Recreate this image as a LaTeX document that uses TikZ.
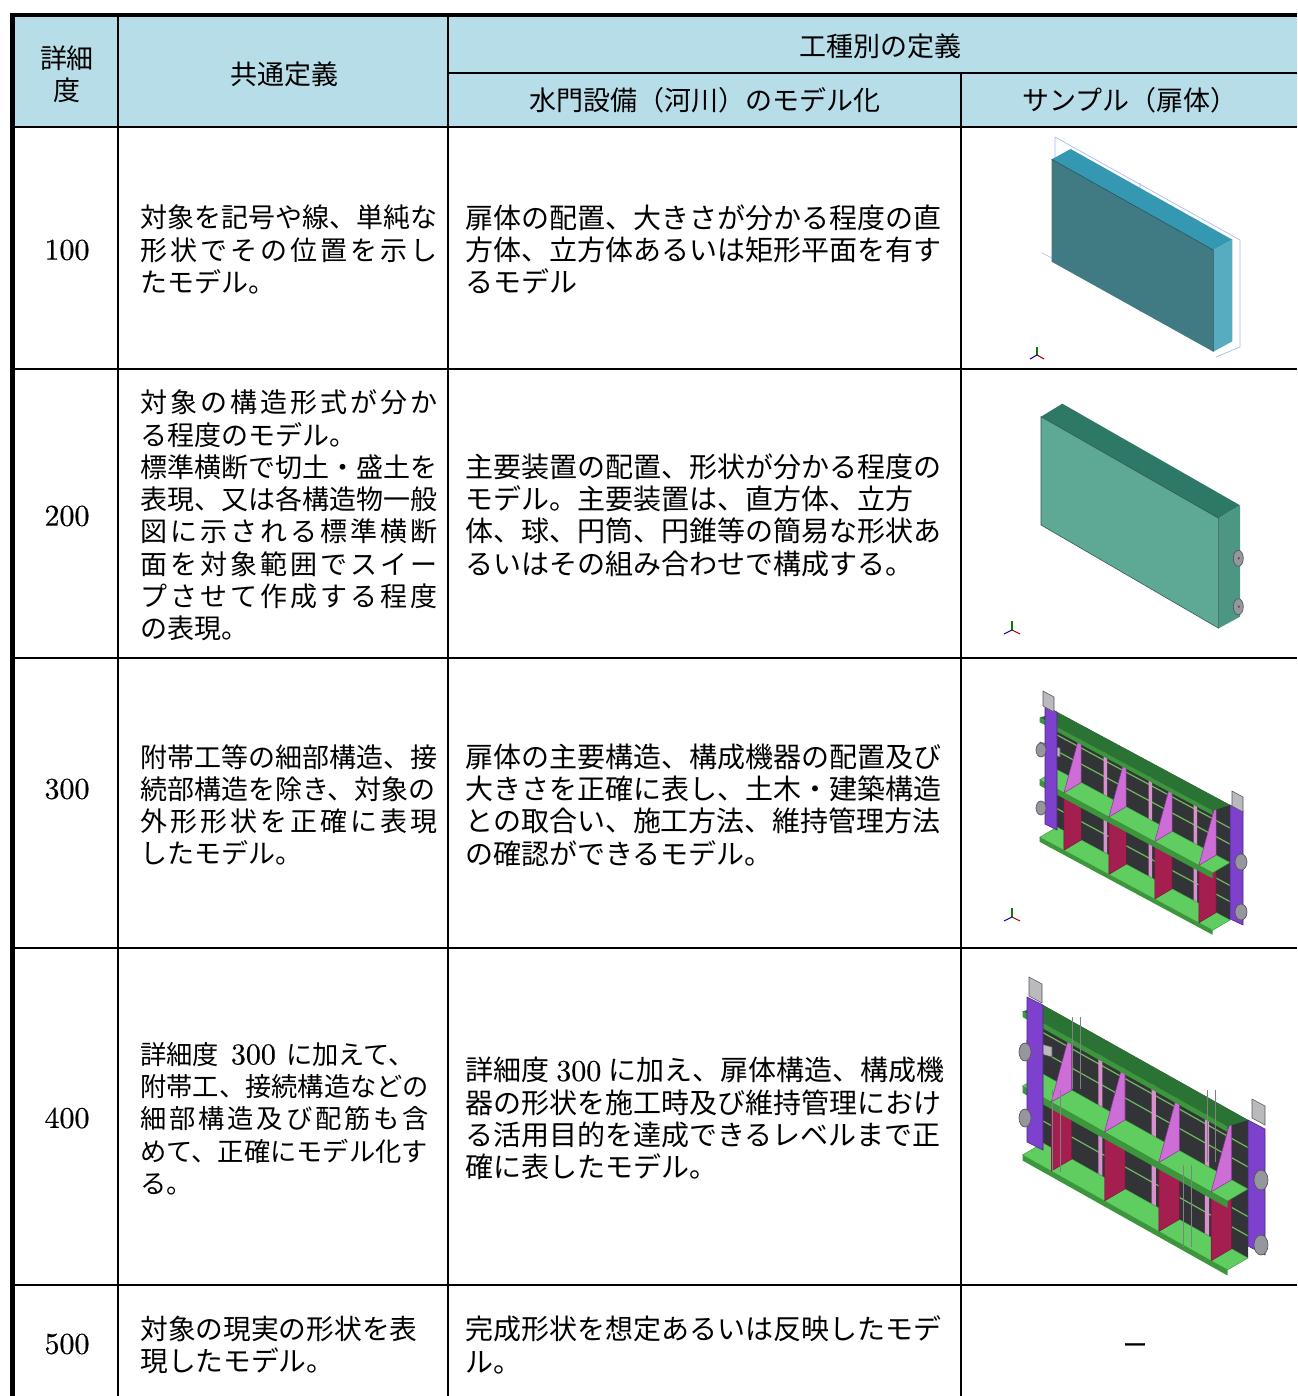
\documentclass[tikz,border=0pt]{standalone}
\usepackage{fontspec}
\newfontfamily\jp{Noto Sans CJK JP}
\newfontfamily\numf{lmroman10-regular.otf}[FakeBold=0.5]
\makeatletter
\def\spr@stop{\spr@stop}
\newcommand\spreadto[2]{\makebox[#1][s]{\spr@first#2\spr@stop}}
\def\spr@first#1{#1\spr@next}
\def\spr@next#1{\ifx\spr@stop#1\else\hfil#1\expandafter\spr@next\fi}
\makeatother
\newcommand\dg[1]{{\numf\fontsize{22.5pt}{24.2pt}\selectfont #1}}
\definecolor{hdr}{RGB}{183,221,232}
\definecolor{bAf}{RGB}{64,122,130}
\definecolor{bAt}{RGB}{52,152,178}
\definecolor{bAs}{RGB}{88,172,192}
\definecolor{bBf}{RGB}{94,168,150}
\definecolor{bBt}{RGB}{45,120,102}
\definecolor{bBs}{RGB}{78,150,132}
\definecolor{dimc}{RGB}{165,185,235}
\definecolor{skinc}{RGB}{50,52,56}
\definecolor{stiffc}{RGB}{110,185,90}
\definecolor{ribc}{RGB}{215,145,205}
\definecolor{floorc}{RGB}{95,205,95}
\definecolor{flangec}{RGB}{60,150,60}
\definecolor{topgc}{RGB}{42,115,52}
\definecolor{gussc}{RGB}{205,110,215}
\definecolor{gussd}{RGB}{140,55,150}
\definecolor{diac}{RGB}{165,30,80}
\definecolor{postc}{RGB}{125,65,205}
\definecolor{wheelc}{RGB}{150,150,158}
\definecolor{wheeld}{RGB}{85,85,92}
\definecolor{brkc}{RGB}{185,185,190}
\newcommand\gatebody{%
  \fill[skinc] (0,0) -- (1,0) -- (1,1) -- (0,1) -- cycle;
  \foreach \t in {0.2,0.34,0.7,0.84} \draw[stiffc,line width=0.9pt] (0,\t) -- (1,\t);
  \foreach \s in {0.27,0.53,0.79} \fill[ribc] (\s,0.05) -- (\s+0.02,0.05) -- (\s+0.02,1) -- (\s,1) -- cycle;
  % lower bay
  \fill[floorc,draw=flangec,line width=0.3pt] (0,1) -- (1,1) -- (0.9,1.17) -- (-0.1,1.17) -- cycle;
  \foreach \s in {0.14,0.40,0.665,0.92}
    \fill[diac,draw=diac!70!black,line width=0.3pt] (\s,0.5) -- (\s,1) -- (\s-0.1,1.17) -- (\s-0.1,0.67) -- cycle;
  \fill[flangec] (-0.1,1.17) -- (0.9,1.17) -- (0.9,1.21) -- (-0.1,1.21) -- cycle;
  % middle girder
  \fill[floorc,draw=flangec,line width=0.3pt] (0,0.5) -- (1,0.5) -- (0.9,0.67) -- (-0.1,0.67) -- cycle;
  \fill[flangec] (-0.1,0.67) -- (0.9,0.67) -- (0.9,0.72) -- (-0.1,0.72) -- cycle;
  % upper bay gussets
  \foreach \s in {0.14,0.40,0.665,0.92}
    \fill[gussc,draw=gussd,line width=0.4pt] (\s,0.04) -- (\s,0.5) -- (\s-0.1,0.67) -- cycle;
  % top girder
  \fill[topgc] (0,0) -- (1,0) -- (0.9,0.13) -- (-0.1,0.13) -- cycle;
  \fill[flangec] (-0.1,0.13) -- (0.9,0.13) -- (0.9,0.17) -- (-0.1,0.17) -- cycle;
}
\begin{document}
\begin{tikzpicture}[x=0.75pt,y=-0.75pt,
  jt/.style={font=\jp\fontsize{#1}{24.2pt}\selectfont,inner sep=0pt,align=left,anchor=west},
  jt/.default=20.25pt,
  hd/.style={font=\jp\fontsize{20.25pt}{24.2pt}\selectfont,inner sep=0pt,align=center},
  num/.style={font=\numf\fontsize{22.5pt}{24pt}\selectfont,inner sep=0pt},
  gridln/.style={line width=1.6pt,black},
  hln/.style={line width=1.9pt,black},
  dimln/.style={dimc,line width=0.5pt},
  wheel/.style={fill=wheelc,draw=wheeld,line width=0.5pt},
  brk/.style={fill=brkc,draw=wheeld,line width=0.4pt},
  post/.style={fill=postc,draw=postc!60!black,line width=0.4pt},
  ladder/.style={draw=brkc!70!black,line width=0.45pt},
]
\useasboundingbox (0,0) rectangle (1297,1396);
\fill[white] (0,0) rectangle (1297,1396);
\fill[hdr] (15,17) rectangle (1297,127);

% ---------- picture 100 ----------
\draw[dimln] (1055,137) -- (1055,160) (1055,137) -- (1240,240) -- (1240,347) -- (1216,357)
  (1042,253) -- (1052,258) (1140,183) -- (1140,200) (1140,300) -- (1140,312);
\fill[bAf] (1051.7,159.3) -- (1213.3,250) -- (1213.3,351.7) -- (1051.7,261.7) -- cycle;
\fill[bAt] (1051.7,159.3) -- (1070.7,149) -- (1232.3,239.7) -- (1213.3,250) -- cycle;
\fill[bAs] (1213.3,250) -- (1232.3,239.7) -- (1232.3,341.4) -- (1213.3,351.7) -- cycle;
\draw[bAf!60!black,line width=0.4pt] (1051.7,159.3) -- (1213.3,250) -- (1213.3,351.7);
\draw[green!50!black,line width=0.8pt] (1037,355) -- (1037,347);
\draw[blue!70!black,line width=0.8pt] (1037,355) -- (1030,359);
\draw[red!70!black,line width=0.8pt] (1037,355) -- (1044,359);

% ---------- picture 200 ----------
\fill[bBf] (1041,416.7) -- (1218.7,518.3) -- (1218.7,628.3) -- (1041,525) -- cycle;
\fill[bBt] (1041,416.7) -- (1062.3,403.7) -- (1240,505.3) -- (1218.7,518.3) -- cycle;
\fill[bBs] (1218.7,518.3) -- (1240,505.3) -- (1240,616.7) -- (1218.7,628.3) -- cycle;
\draw[bBf!50!black,line width=0.4pt] (1041,416.7) -- (1218.7,518.3) -- (1218.7,628.3) -- (1041,525) -- cycle;
\draw[wheel] (1238.3,558.3) ellipse [x radius=5, y radius=8];
\draw[wheel] (1238.3,606.7) ellipse [x radius=5, y radius=8];
\fill[wheeld] (1238.8,558.3) circle (1.3);
\fill[wheeld] (1238.8,606.7) circle (1.3);
\draw[green!50!black,line width=0.8pt] (1012,630) -- (1012,621);
\draw[blue!70!black,line width=0.8pt] (1012,630) -- (1004,634);
\draw[red!70!black,line width=0.8pt] (1012,630) -- (1020,634);

% ---------- picture 300 ----------
\begin{scope}[shift={(1057,712)},x={(173,93)},y={(0,115)}]
  \gatebody
\end{scope}
\fill[brk] (1040,742) -- (1060,748) -- (1060,757) -- (1040,752) -- cycle;
\draw[post] (1045,706) -- (1057,712) -- (1057,830) -- (1045,824) -- cycle;
\draw[post] (1230,805) -- (1243,811) -- (1243,925) -- (1230,919) -- cycle;
\draw[brk] (1043,691) -- (1054,697) -- (1054,712) -- (1043,706) -- cycle;
\draw[brk] (1232,791) -- (1243,797) -- (1243,812) -- (1232,806) -- cycle;
\draw[wheel] (1041,750) ellipse [x radius=5, y radius=7];
\draw[wheel] (1041,808) ellipse [x radius=5, y radius=7];
\draw[wheel] (1241,862) ellipse [x radius=6, y radius=8];
\draw[wheel] (1241,912) ellipse [x radius=6, y radius=8];
\draw[green!50!black,line width=0.8pt] (1012,917) -- (1012,908);
\draw[blue!70!black,line width=0.8pt] (1012,917) -- (1004,921);
\draw[red!70!black,line width=0.8pt] (1012,917) -- (1020,921);

% ---------- picture 400 ----------
\begin{scope}[shift={(1043,1005)},x={(205,115)},y={(0,138)}]
  \gatebody
\end{scope}
\fill[brk] (1027,1040) -- (1052,1047) -- (1052,1057) -- (1027,1050) -- cycle;
\draw[post] (1027,997) -- (1043,1005) -- (1043,1150) -- (1027,1142) -- cycle;
\draw[post] (1248,1120) -- (1265,1129) -- (1265,1255) -- (1248,1246) -- cycle;
\draw[brk] (1029,977) -- (1042,984) -- (1042,1003) -- (1029,996) -- cycle;
\draw[brk] (1252,1099) -- (1265,1106) -- (1265,1125) -- (1252,1118) -- cycle;
\draw[wheel] (1025,1052) ellipse [x radius=6, y radius=9];
\draw[wheel] (1025,1118) ellipse [x radius=6, y radius=9];
\draw[wheel] (1261,1180) ellipse [x radius=7, y radius=10];
\draw[wheel] (1261,1245) ellipse [x radius=7, y radius=10];
\begin{scope}[shift={(1052,1090)}] \draw[ladder] (0,0) grid[xstep=8,ystep=6] (8,82); \end{scope}
\begin{scope}[shift={(1072,1017)}] \draw[ladder] (0,0) grid[xstep=8,ystep=6] (8,72); \end{scope}
\begin{scope}[shift={(1183,1165)}] \draw[ladder] (0,0) grid[xstep=8,ystep=6] (8,82); \end{scope}
\begin{scope}[shift={(1207,1090)}] \draw[ladder] (0,0) grid[xstep=8,ystep=6] (8,72); \end{scope}

% ---------- table rules ----------
\draw[gridln] (118,15) -- (118,1396);
\draw[gridln] (448,15) -- (448,1396);
\draw[gridln] (961,73) -- (961,1396);
\draw[gridln] (448,73) -- (1297,73);
\foreach \yy in {127,369,658,948} \draw[hln] (12,\yy) -- (1297,\yy);
\draw[hln,line width=2.2pt] (12,1285) -- (1297,1285);
\draw[line width=3pt] (10,15) -- (1297,15);
\draw[line width=3.8pt] (12.5,13) -- (12.5,1396);

% ---------- header ----------
\node[hd] (hlev) at (67,74) {詳細\\度};
\node[hd] (hcom) at (284,74) {共通定義};
\node[hd] (hkind) at (880,46) {工種別の定義};
\node[hd] (hgate) at (705,100) {水門設備（河川）のモデル化};
\node[hd] (hsamp) at (1130,100) {サンプル（扉体）};

% ---------- level numbers ----------
\node[num] (n100) at (67,250) {100};
\node[num] (n200) at (67,516) {200};
\node[num] (n300) at (67,789) {300};
\node[num] (n400) at (67,1118) {400};
\node[num] (n500) at (67,1344) {500};

% ---------- common definitions ----------
\node[jt] (c100) at (140,249.5) {対象を記号や線、単純な\\\spreadto{11em}{形状でその位置を示し}\\たモデル。};
\node[jt] (c200) at (140,515.5) {\spreadto{11em}{対象の構造形式が分か}\\る程度のモデル。\\標準横断で切土・盛土を\\表現、又は各構造物一般\\\spreadto{11em}{図に示される標準横断}\\\spreadto{11em}{面を対象範囲でスイー}\\\spreadto{11em}{プさせて作成する程度}\\の表現。};
\node[jt] (c300) at (140,805) {附帯工等の細部構造、接\\続部構造を除き、対象の\\\spreadto{11em}{外形形状を正確に表現}\\したモデル。};
\node[jt=19.7pt] (c400) at (140,1118.5) {詳細度\hspace{0.45em}\dg{300}\hspace{0.4em}に加えて、\\附帯工、接続構造などの\\\spreadto{11em}{細部構造及び配筋も含}\\めて、正確にモデル化す\\る。};
\node[jt=20.8pt] (c500) at (140,1345) {対象の現実の形状を表\\現したモデル。};

% ---------- gate definitions ----------
\node[jt=21pt] (g100) at (465,249.5) {扉体の配置、大きさが分かる程度の直\\方体、立方体あるいは矩形平面を有す\\るモデル};
\node[jt=21pt] (g200) at (465,515) {主要装置の配置、形状が分かる程度の\\モデル。主要装置は、直方体、立方\\体、球、円筒、円錐等の簡易な形状あ\\るいはその組み合わせで構成する。};
\node[jt=21pt] (g300) at (465,805) {扉体の主要構造、構成機器の配置及び\\大きさを正確に表し、土木・建築構造\\との取合い、施工方法、維持管理方法\\の確認ができるモデル。};
\node[jt=21pt] (g400) at (465,1118.5) {詳細度\hspace{0.25em}\dg{300}\hspace{0.25em}に加え、扉体構造、構成機\\器の形状を施工時及び維持管理におけ\\る活用目的を達成できるレベルまで正\\確に表したモデル。};
\node[jt=21pt] (g500) at (465,1345) {完成形状を想定あるいは反映したモデ\\ル。};

\node[hd] (dash) at (1135,1349) {\addfontfeature{FakeBold=1}－};
\end{tikzpicture}
\end{document}
